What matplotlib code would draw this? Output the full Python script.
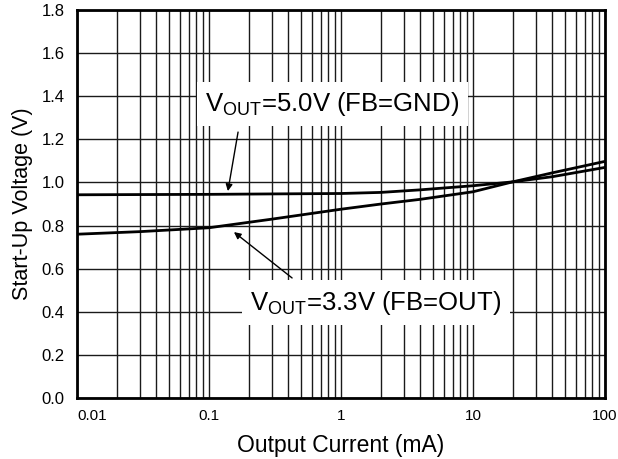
import numpy as np
from matplotlib import pyplot as plt
from matplotlib.ticker import FixedLocator, NullFormatter

plt.rcParams['font.family'] = ['Liberation Sans', 'DejaVu Sans']
plt.rcParams['mathtext.fontset'] = 'custom'
plt.rcParams['mathtext.rm'] = 'Liberation Sans'

# output current (mA) and start-up voltage (V)
current = [0.01, 0.03, 0.1, 0.3, 1, 2, 4, 10, 20, 40, 100]
v_5v0 = [0.943, 0.944, 0.945, 0.947, 0.949, 0.954, 0.966, 0.985, 1.003, 1.027, 1.070]
v_3v3 = [0.760, 0.772, 0.790, 0.830, 0.876, 0.900, 0.922, 0.957, 1.003, 1.045, 1.098]

xticks = [0.01, 0.1, 1, 10, 100]
xticklabels = ['0.01', '0.1', '1', '10', '100']
yticks = [0.0, 0.2, 0.4, 0.6, 0.8, 1.0, 1.2, 1.4, 1.6, 1.8]

fig = plt.figure(figsize=(6.18, 4.59), dpi=100)
ax = fig.add_axes([0.1246, 0.1329, 0.979 - 0.1246, 0.978 - 0.1329])

ax.plot(current, v_5v0, color='k', lw=2, zorder=3)
ax.plot(current, v_3v3, color='k', lw=2, zorder=3)

ax.set_xscale('log')
ax.set_xlim(0.01, 100)
ax.set_ylim(0, 1.8)

ax.xaxis.set_major_locator(FixedLocator(xticks))
ax.set_xticklabels(xticklabels)
ax.xaxis.set_minor_locator(FixedLocator(
    [m * 10.0**e for e in range(-2, 2) for m in range(2, 10)]))
ax.xaxis.set_minor_formatter(NullFormatter())
ax.set_yticks(yticks)
ax.set_yticklabels(['%.1f' % v for v in yticks])
ax.get_xticklabels()[0].set_ha('left')

ax.grid(which='both', axis='x', color='#1a1a1a', lw=1)
ax.grid(which='major', axis='y', color='#1a1a1a', lw=1)
ax.tick_params(which='both', length=0)
ax.tick_params(axis='x', labelsize=11, pad=8)
ax.tick_params(axis='y', labelsize=12, pad=9)
for s in ax.spines.values():
    s.set_linewidth(2)
    s.set_zorder(4)

ax.set_xlabel('Output Current (mA)', fontsize=16.5, labelpad=8)
ax.set_ylabel('Start-Up Voltage (V)', fontsize=15.5, labelpad=6)

box = dict(facecolor='white', edgecolor='none', pad=6)
ax.text(0.862, 1.364, r'$\mathregular{V_{OUT}}$=5.0V (FB=GND)', fontsize=18.5,
        ha='center', va='center', bbox=box, zorder=5)
ax.text(1.84, 0.443, r'$\mathregular{V_{OUT}}$=3.3V (FB=OUT)', fontsize=18.5,
        ha='center', va='center', bbox=box, zorder=5)

arrow = dict(arrowstyle='-|>', color='k', lw=1, mutation_scale=10, shrinkA=0, shrinkB=0)
ax.annotate('', xy=(0.139, 0.960), xytext=(0.166, 1.234), arrowprops=arrow, zorder=6)
ax.annotate('', xy=(0.1545, 0.770), xytext=(0.426, 0.557), arrowprops=arrow, zorder=6)

fig.savefig('out.png', dpi=100)
